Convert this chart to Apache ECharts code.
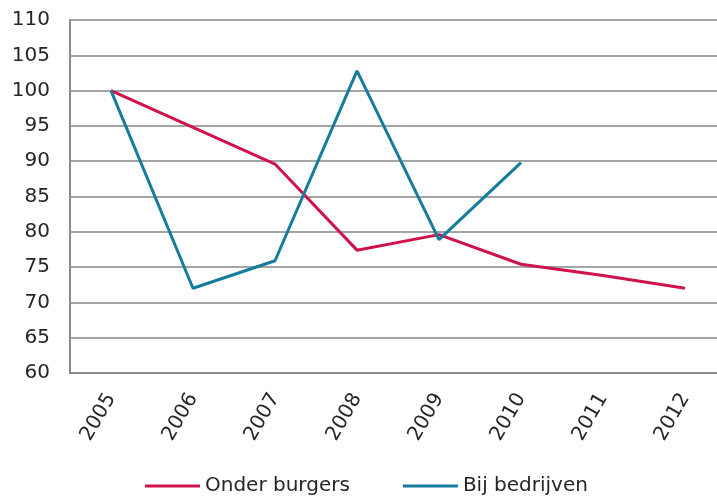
<!DOCTYPE html>
<html><head><meta charset="utf-8">
<script src="https://cdn.jsdelivr.net/npm/echarts@6/dist/echarts.min.js"></script>
<style>html,body{margin:0;padding:0;background:#fff;overflow:hidden;width:717px;height:497px}#c{width:740px;height:497px}</style>
</head><body><div id="c"></div>
<script>
const categories = ['2005','2006','2007','2008','2009','2010','2011','2012'];
const onderBurgers = [100, 94.8, 89.6, 77.4, 79.6, 75.4, 73.8, 72.0];
const bijBedrijven = [100, 72.0, 75.9, 102.8, 78.9, 89.8, null, null];
const seriesNames = ['Onder burgers', 'Bij bedrijven'];
const font = 'DejaVu Sans';
const chart = echarts.init(document.getElementById('c'), null, {renderer:'canvas'});
chart.setOption({
  animation: false,
  textStyle: {fontFamily: font},
  grid: {left: 70, top: 20, width: 656, height: 353, containLabel: false},
  legend: {
    top: 471, left: 140, itemGap: 53, itemWidth: 55, itemHeight: 3,
    icon: 'rect',
    textStyle: {fontFamily: font, fontSize: 20, color: '#262626'},
    data: seriesNames
  },
  xAxis: {
    type: 'category', data: categories, boundaryGap: true,
    axisLine: {lineStyle: {color: '#8c8c8c', width: 2}},
    axisTick: {show: false},
    axisLabel: {rotate: 60, fontSize: 20, color: '#262626', fontFamily: font, margin: 22}
  },
  yAxis: {
    type: 'value', min: 60, max: 110, interval: 5,
    axisLine: {show: true, lineStyle: {color: '#8c8c8c', width: 2}},
    axisTick: {show: false},
    splitLine: {lineStyle: {color: '#a4a4a4', width: 2}},
    axisLabel: {fontSize: 20, color: '#262626', fontFamily: font, margin: 20}
  },
  series: [
    {name: seriesNames[0], type: 'line', data: onderBurgers, symbol: 'none',
     lineStyle: {color: '#d0134b', width: 3}, itemStyle: {color: '#d0134b'}},
    {name: seriesNames[1], type: 'line', data: bijBedrijven, symbol: 'none',
     lineStyle: {color: '#157c9b', width: 3}, itemStyle: {color: '#157c9b'}}
  ]
});
</script></body></html>
